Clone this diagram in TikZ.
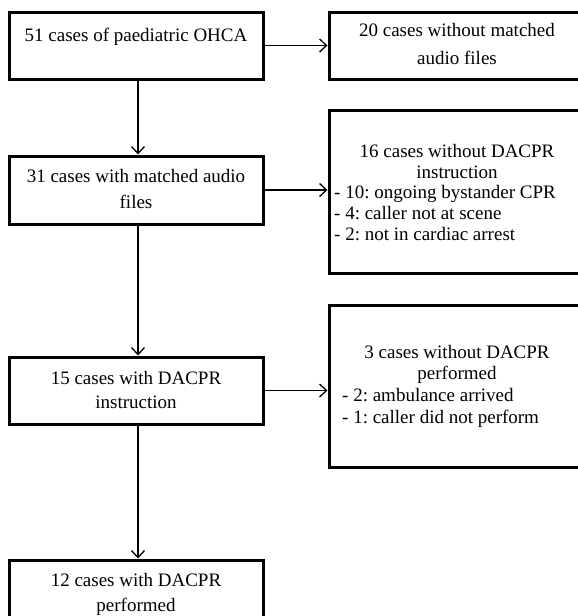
\documentclass[tikz,border=0pt]{standalone}
\usepackage{fontspec}
\setmainfont{Liberation Serif}
\usetikzlibrary{arrows.meta}
\begin{document}
\frenchspacing
\begin{tikzpicture}[x=1pt,y=-1pt,
  box/.style={draw, line width=3pt, inner sep=0pt},
  conn/.style={line width=1.2pt, -{Straight Barb[length=7pt,width=13pt,line width=1.3pt]}},
  txt/.style={font=\fontsize{19}{23}\selectfont, align=center, inner sep=0pt},
  lst/.style={font=\fontsize{19}{21.5}\selectfont, align=left, inner sep=0pt, anchor=west},
]
\useasboundingbox (0,0) rectangle (578,616);
\clip (0,0) rectangle (578,616);
% boxes
\node[box, minimum width=254pt, minimum height=67pt] (b1) at (136,45.5) {};
\node[box, minimum width=271pt, minimum height=67pt] (b2) at (464.5,45.5) {};
\node[box, minimum width=254pt, minimum height=68pt] (b3) at (136,190) {};
\node[box, minimum width=271pt, minimum height=163pt] (b4) at (464.5,191.5) {};
\node[box, minimum width=254pt, minimum height=67pt] (b5) at (136,390.5) {};
\node[box, minimum width=271pt, minimum height=162pt] (b6) at (464.5,386) {};
\node[box, minimum width=254pt, minimum height=80pt] (b7) at (136,600) {};
% texts
\node[txt] (t1) at (136,37) {51 cases of paediatric OHCA};
\node[txt, font=\fontsize{19}{28}\selectfont] (t2) at (457,44) {20 cases without matched\\audio files};
\node[txt, font=\fontsize{19}{26}\selectfont] (t3) at (136,189) {31 cases with matched audio\\files};
\node[txt, font=\fontsize{19}{21}\selectfont] (t4a) at (457,161) {16 cases without DACPR\\instruction};
\node[lst, font=\fontsize{19}{21}\selectfont] (t4b) at (334,213.5) {- 10: ongoing bystander CPR\\- 4: caller not at scene\\- 2: not in cardiac arrest};
\node[txt, font=\fontsize{19}{24}\selectfont] (t5) at (136,390) {15 cases with DACPR\\instruction};
\node[txt, font=\fontsize{19}{21.5}\selectfont] (t6a) at (457,364.5) {3 cases without DACPR\\performed};
\node[lst] (t6b) at (342,408) {- 2: ambulance arrived\\- 1: caller did not perform};
\node[txt, font=\fontsize{19}{25}\selectfont] (t7) at (136,594) {12 cases with DACPR\\performed};
% connectors
\draw[conn] (b1.east) -- (b1.east -| b2.west);
\draw[conn] (b3.east) -- (b3.east -| b4.west);
\draw[conn] (b5.east) -- (b5.east -| b6.west);
\draw[conn] ([xshift=2pt]b1.south) -- ([xshift=2pt]b3.north);
\draw[conn] ([xshift=2pt]b3.south) -- ([xshift=2pt]b5.north);
\draw[conn] ([xshift=2pt]b5.south) -- ([xshift=2pt]b7.north);
\end{tikzpicture}
\end{document}
